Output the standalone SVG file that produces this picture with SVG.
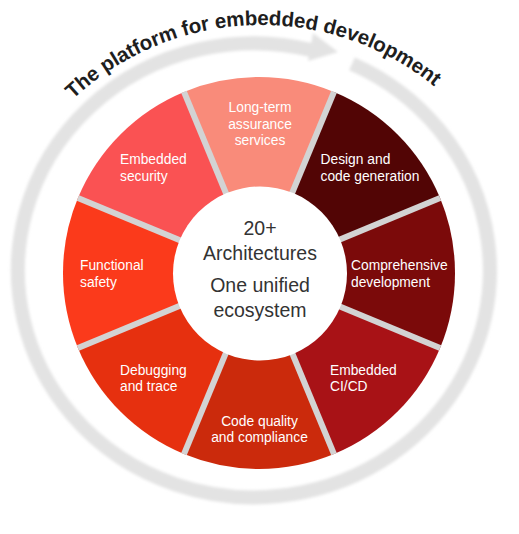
<svg xmlns="http://www.w3.org/2000/svg" width="519" height="534" viewBox="0 0 519 534">
  <defs>
    <filter id="soft" x="-10%" y="-10%" width="120%" height="120%">
      <feGaussianBlur stdDeviation="1.6"/>
    </filter>
    <path id="titleArc" d="M -14,300 A 275,275 0 0 1 536,300"/>
    <style>
      .seg-label { font-family: "Liberation Sans", Arial, sans-serif; font-size: 13.8px; fill: #ffffff; }
      .center-text { font-family: "Liberation Sans", Arial, sans-serif; font-size: 19.5px; fill: #333333; text-anchor: middle; }
      .title { font-family: "Liberation Sans", Arial, sans-serif; font-size: 20.5px; font-weight: bold; fill: #1e1e1e; letter-spacing: -0.1px; }
      .sep { stroke: #d3d3d3; stroke-width: 6; }
      .ring { fill: none; stroke: #e3e3e3; stroke-width: 14; }
    </style>
  </defs>

  <rect width="519" height="534" fill="#ffffff"/>

  <g id="connectors">
    <g filter="url(#soft)">
      <path class="ring" d="M 352,63.8 A 236,227 0 1 1 311,50"/>
      <polygon points="313,33 338,52 308,61" fill="#e3e3e3"/>
    </g>
  </g>

  <g id="title">
    <text class="title"><textPath href="#titleArc" startOffset="48.86%" text-anchor="middle">The platform for embedded development</textPath></text>
  </g>

  <g id="long-term-assurance">
    <path d="M259,273 L183.99,91.92 A196,196 0 0 1 334.01,91.92 Z" fill="#f98b7a"/>
  </g>
  <g id="design-code-generation">
    <path d="M259,273 L334.01,91.92 A196,196 0 0 1 440.08,197.99 Z" fill="#520505"/>
  </g>
  <g id="comprehensive-development">
    <path d="M259,273 L440.08,197.99 A196,196 0 0 1 440.08,348.01 Z" fill="#7b0a0a"/>
  </g>
  <g id="embedded-cicd">
    <path d="M259,273 L440.08,348.01 A196,196 0 0 1 334.01,454.08 Z" fill="#a81216"/>
  </g>
  <g id="code-quality">
    <path d="M259,273 L334.01,454.08 A196,196 0 0 1 183.99,454.08 Z" fill="#cb2a0c"/>
  </g>
  <g id="debugging-trace">
    <path d="M259,273 L183.99,454.08 A196,196 0 0 1 77.92,348.01 Z" fill="#e6300f"/>
  </g>
  <g id="functional-safety">
    <path d="M259,273 L77.92,348.01 A196,196 0 0 1 77.92,197.99 Z" fill="#fb3a1b"/>
  </g>
  <g id="embedded-security">
    <path d="M259,273 L77.92,197.99 A196,196 0 0 1 183.99,91.92 Z" fill="#fa5253"/>
  </g>

  <g id="separators">
    <line class="sep" x1="259" y1="273" x2="183.99" y2="91.92"/>
    <line class="sep" x1="259" y1="273" x2="334.01" y2="91.92"/>
    <line class="sep" x1="259" y1="273" x2="440.08" y2="197.99"/>
    <line class="sep" x1="259" y1="273" x2="440.08" y2="348.01"/>
    <line class="sep" x1="259" y1="273" x2="334.01" y2="454.08"/>
    <line class="sep" x1="259" y1="273" x2="183.99" y2="454.08"/>
    <line class="sep" x1="259" y1="273" x2="77.92" y2="348.01"/>
    <line class="sep" x1="259" y1="273" x2="77.92" y2="197.99"/>
  </g>

  <g id="labels">
    <text class="seg-label" text-anchor="middle"><tspan x="260" y="112">Long-term</tspan><tspan x="260" y="128.5">assurance</tspan><tspan x="260" y="145">services</tspan></text>
    <text class="seg-label"><tspan x="320.5" y="164">Design and</tspan><tspan x="320.5" y="180.5">code generation</tspan></text>
    <text class="seg-label"><tspan x="351" y="270">Comprehensive</tspan><tspan x="351" y="286.5">development</tspan></text>
    <text class="seg-label"><tspan x="330" y="375">Embedded</tspan><tspan x="330" y="391">CI/CD</tspan></text>
    <text class="seg-label" text-anchor="middle"><tspan x="259.5" y="425.5">Code quality</tspan><tspan x="259.5" y="442">and compliance</tspan></text>
    <text class="seg-label"><tspan x="120" y="375">Debugging</tspan><tspan x="120" y="391">and trace</tspan></text>
    <text class="seg-label"><tspan x="80" y="270">Functional</tspan><tspan x="80" y="286.5">safety</tspan></text>
    <text class="seg-label"><tspan x="120" y="164">Embedded</tspan><tspan x="120" y="180.5">security</tspan></text>
  </g>

  <g id="center">
    <circle cx="260" cy="273.5" r="87" fill="#ffffff"/>
    <text class="center-text"><tspan x="260" y="235">20+</tspan><tspan x="260" y="260">Architectures</tspan><tspan x="260" y="292">One unified</tspan><tspan x="260" y="317">ecosystem</tspan></text>
  </g>
</svg>
